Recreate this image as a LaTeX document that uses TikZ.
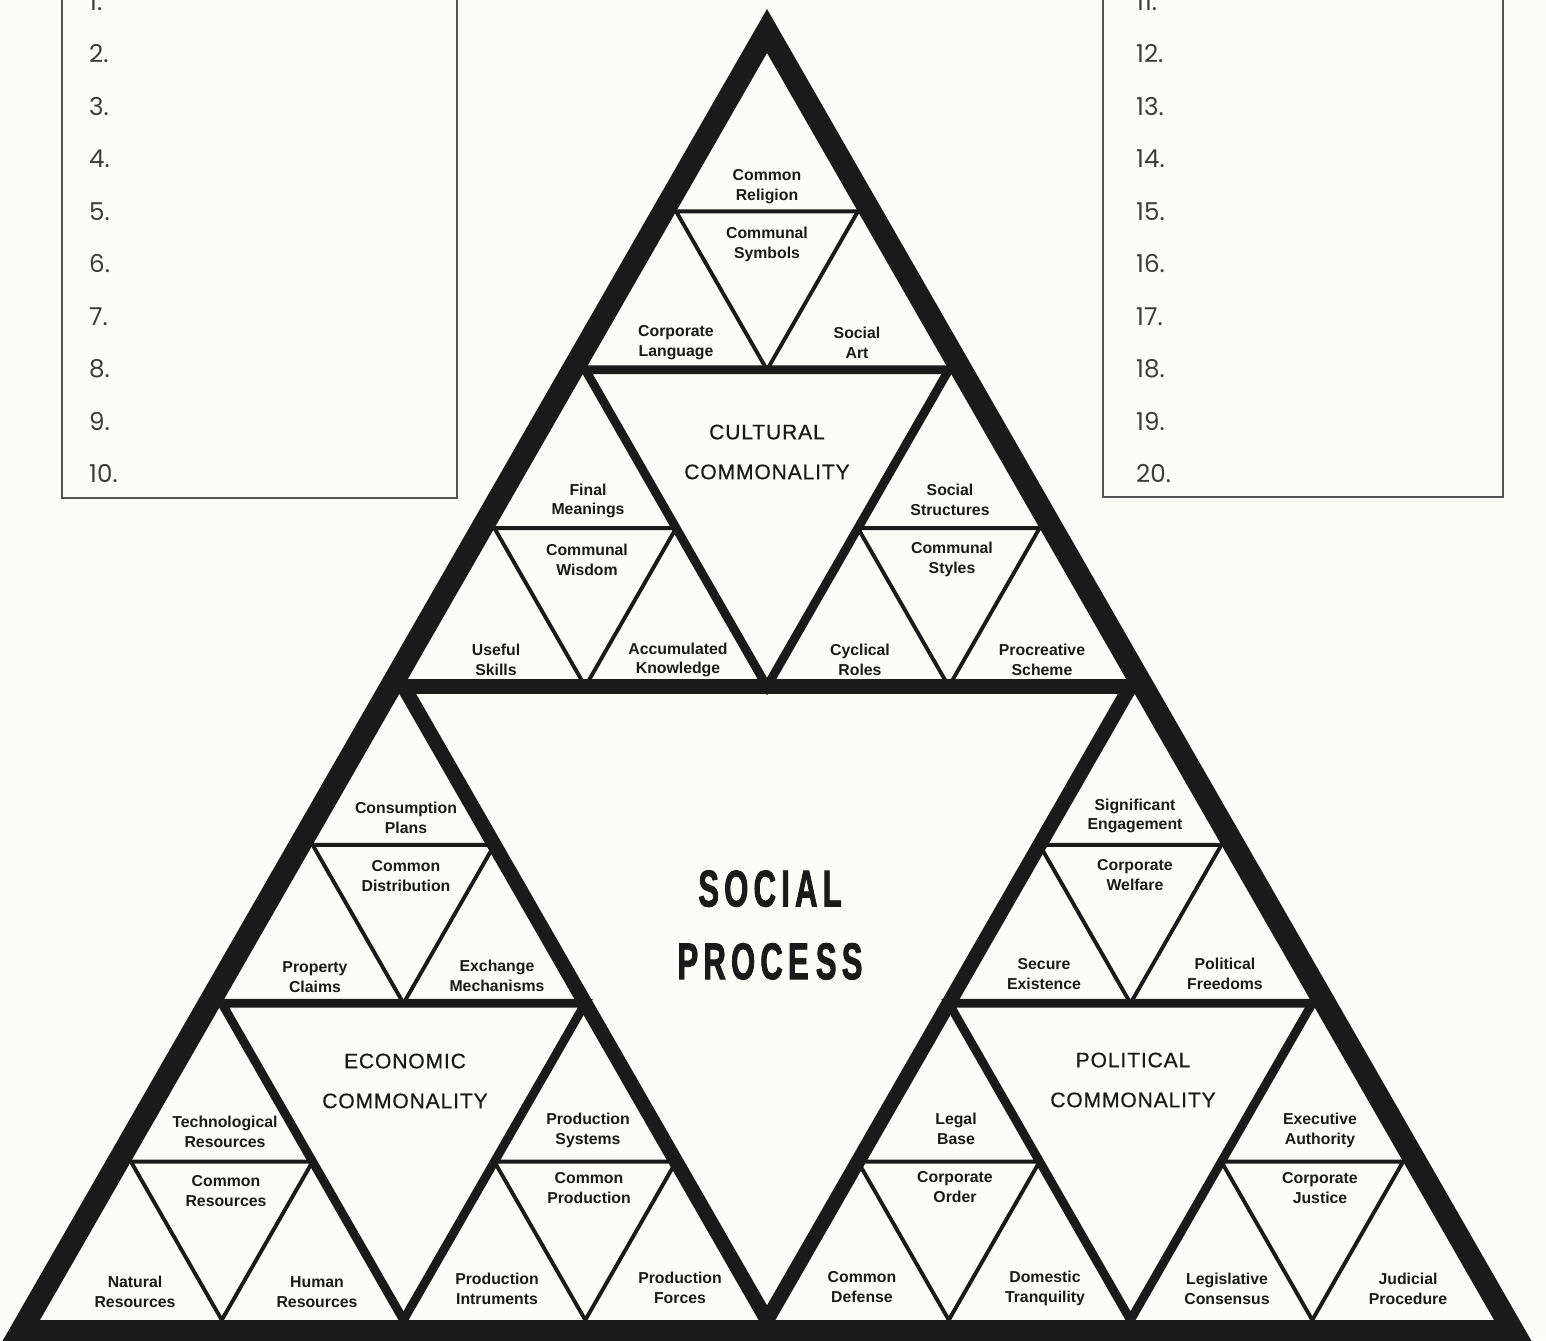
\documentclass[tikz,border=0pt]{standalone}
\usepackage{fontspec}
\setmainfont{Liberation Sans}
\newfontfamily\numfont{Poppins}
\newfontfamily\headfont[LetterSpace=4,FakeBold=0.6]{Liberation Sans}
\newfontfamily\titlefont[FakeStretch=0.6,LetterSpace=10,FakeBold=1.5]{Liberation Sans}
\definecolor{paper}{RGB}{252,252,248}
\definecolor{ink}{RGB}{26,26,26}

\begin{document}
\begin{tikzpicture}[x=0.02cm, y=-0.02cm,
	term/.style={align=center, text=ink, font={\fontsize{9}{11.3}\selectfont\bfseries}},
	heading/.style={align=center, text=ink, font={\headfont\fontsize{12}{22.7}\selectfont}},
	bigtitle/.style={align=center, text=ink, font={\titlefont\fontsize{29.5}{41.4}\selectfont\bfseries}},
	num/.style={anchor=base west, text=ink!85, font={\numfont\fontsize{14}{16}\selectfont}},
	listbox/.style={draw=ink!75, line width=1pt},
	tri1/.style={draw=ink, line width=8.3pt},
	tri2/.style={draw=ink, line width=5pt},
	tri3/.style={draw=ink, line width=2.2pt}]
	\useasboundingbox (0,0) rectangle (1546,1340);
	\clip (0,0) rectangle (1546,1340);
	\fill[paper] (0,0) rectangle (1546,1340);

	% the two lists
	\draw[listbox] (62,-20) -- (62,498) -- (457,498) -- (457,-20);
	\draw[listbox] (1103,-20) -- (1103,497) -- (1503,497) -- (1503,-20);

	\node[num] (n1) at (83,10) {1.};
	\node[num] (n2) at (83,62.5) {2.};
	\node[num] (n3) at (83,115) {3.};
	\node[num] (n4) at (83,167.5) {4.};
	\node[num] (n5) at (83,220) {5.};
	\node[num] (n6) at (83,272.5) {6.};
	\node[num] (n7) at (83,325) {7.};
	\node[num] (n8) at (83,377.5) {8.};
	\node[num] (n9) at (83,430) {9.};
	\node[num] (n10) at (83,482.5) {10.};

	\node[num] (n11) at (1130,10) {11.};
	\node[num] (n12) at (1130,62.5) {12.};
	\node[num] (n13) at (1130,115) {13.};
	\node[num] (n14) at (1130,167.5) {14.};
	\node[num] (n15) at (1130,220) {15.};
	\node[num] (n16) at (1130,272.5) {16.};
	\node[num] (n17) at (1130,325) {17.};
	\node[num] (n18) at (1130,377.5) {18.};
	\node[num] (n19) at (1130,430) {19.};
	\node[num] (n20) at (1130,482.5) {20.};

	% smallest triangles
	\draw[tri3] (676.1,211.4) -- (857.9,211.4) -- (767,369.8) -- cycle;
	\draw[tri3] (494.4,528.1) -- (676.1,528.1) -- (585.3,686.5) -- cycle;
	\draw[tri3] (857.9,528.1) -- (1039.6,528.1) -- (948.8,686.5) -- cycle;
	\draw[tri3] (312.6,844.9) -- (494.4,844.9) -- (403.5,1003.3) -- cycle;
	\draw[tri3] (130.9,1161.6) -- (312.6,1161.6) -- (221.8,1320) -- cycle;
	\draw[tri3] (494.4,1161.6) -- (676.1,1161.6) -- (585.3,1320) -- cycle;
	\draw[tri3] (1039.6,844.9) -- (1221.4,844.9) -- (1130.5,1003.3) -- cycle;
	\draw[tri3] (857.9,1161.6) -- (1039.6,1161.6) -- (948.8,1320) -- cycle;
	\draw[tri3] (1221.4,1161.6) -- (1403.1,1161.6) -- (1312.3,1320) -- cycle;

	% commonality triangles
	\draw[tri2] (585.3,369.8) -- (948.8,369.8) -- (767,686.5) -- cycle;
	\draw[tri2] (221.8,1003.3) -- (585.3,1003.3) -- (403.5,1320) -- cycle;
	\draw[tri2] (948.8,1003.3) -- (1312.3,1003.3) -- (1130.5,1320) -- cycle;

	% social process
	\draw[tri1] (403.5,686.5) -- (1130.5,686.5) -- (767,1320) -- cycle;

	% outer frame
	\fill[ink, even odd rule] (767,9) -- (1.9,1342) -- (1532.1,1342) -- cycle
		(767,53) -- (40,1320) -- (1494,1320) -- cycle;

	% cultural
	\node[term] (religion) at (767,187) {Common\\Religion};
	\node[term] (symbols) at (767,244) {Communal\\Symbols};
	\node[term] (language) at (676,343) {Corporate\\Language};
	\node[term] (art) at (857,343) {Social\\Art};
	\node[heading] (cultural) at (767,452) {CULTURAL\\COMMONALITY};
	\node[term] (meanings) at (588,501) {Final\\Meanings};
	\node[term] (wisdom) at (587,560) {Communal\\Wisdom};
	\node[term] (skills) at (496,660) {Useful\\Skills};
	\node[term] (knowledge) at (678,660) {Accumulated\\Knowledge};
	\node[term] (structures) at (950,500) {Social\\Structures};
	\node[term] (styles) at (952,559) {Communal\\Styles};
	\node[term] (roles) at (860,660) {Cyclical\\Roles};
	\node[term] (scheme) at (1042,660) {Procreative\\Scheme};

	% economic
	\node[term] (plans) at (406,818) {Consumption\\Plans};
	\node[term] (distribution) at (406,876) {Common\\Distribution};
	\node[term] (claims) at (315,977) {Property\\Claims};
	\node[term] (exchange) at (497,976) {Exchange\\Mechanisms};
	\node[heading] (economic) at (405,1081) {ECONOMIC\\COMMONALITY};
	\node[term] (technology) at (225,1132) {Technological\\Resources};
	\node[term] (resources) at (226,1191) {Common\\Resources};
	\node[term] (natural) at (135,1292) {Natural\\Resources};
	\node[term] (human) at (317,1292) {Human\\Resources};
	\node[term] (systems) at (588,1130) {Production\\Systems};
	\node[term] (production) at (589,1188) {Common\\Production};
	\node[term] (instruments) at (497,1289) {Production\\Intruments};
	\node[term] (forces) at (680,1288) {Production\\Forces};

	% political
	\node[term] (engagement) at (1135,816) {Significant\\Engagement};
	\node[term] (welfare) at (1135,875) {Corporate\\Welfare};
	\node[term] (existence) at (1044,974) {Secure\\Existence};
	\node[term] (freedoms) at (1225,974) {Political\\Freedoms};
	\node[heading] (political) at (1133,1080) {POLITICAL\\COMMONALITY};
	\node[term] (legal) at (956,1129) {Legal\\Base};
	\node[term] (order) at (955,1187) {Corporate\\Order};
	\node[term] (defense) at (862,1287) {Common\\Defense};
	\node[term] (tranquility) at (1045,1288) {Domestic\\Tranquility};
	\node[term] (authority) at (1320,1130) {Executive\\Authority};
	\node[term] (justice) at (1320,1188) {Corporate\\Justice};
	\node[term] (consensus) at (1227,1289) {Legislative\\Consensus};
	\node[term] (procedure) at (1408,1289) {Judicial\\Procedure};

	\node[bigtitle] (social) at (770,925) {SOCIAL\\PROCE\kern4pt SS};
\end{tikzpicture}
\end{document}
